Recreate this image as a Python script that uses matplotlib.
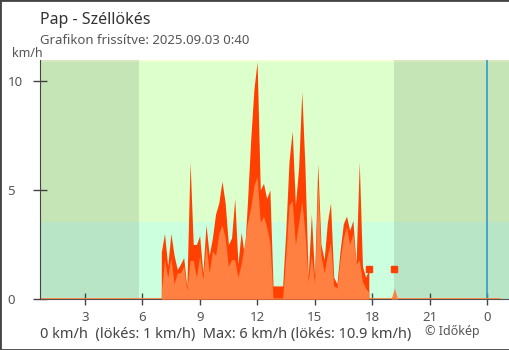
import numpy as np
import matplotlib
matplotlib.use("Agg")
import matplotlib.pyplot as plt
from matplotlib.patches import Rectangle

plt.rcParams["font.family"] = ["Noto Sans", "DejaVu Sans"]

# time window of the chart (hours, previous day 0:40 -> 0:40 today)
day_start = 0 + 40 / 60
day_end = 24 + 40 / 60
x_max = 25.15

# 10-minute readings from 7:00 to 17:50 (km/h)
first_reading = 7.0
gust = [2.15, 3.0, 1.5, 3.0, 2.0, 1.35, 1.6, 1.9, 0.56, 6.27,
        2.5, 2.5, 2.9, 1.2, 3.4, 2.0, 2.8, 3.9, 4.4, 5.4,
        4.4, 2.5, 2.8, 4.6, 1.6, 3.06, 2.0, 4.5, 7.3, 9.6,
        10.86, 5.0, 5.3, 4.6, 5.0, 0.6, 0.6, 0.6, 0.6, 3.14,
        6.3, 7.7, 4.3, 6.0, 9.5, 6.0, 1.0, 3.9, 1.0, 6.2,
        2.5, 1.8, 3.5, 4.4, 1.0, 0.7, 2.23, 3.44, 3.8, 3.14,
        3.6, 1.6, 6.27, 1.5, 1.0, 1.36]
mean = [0.3, 1.8, 1.0, 1.9, 0.7, 1.2, 1.2, 1.5, 0.4, 1.77,
        1.77, 1.0, 2.0, 0.9, 2.5, 1.2, 2.2, 2.0, 3.0, 3.4,
        2.8, 1.5, 1.8, 1.8, 1.0, 1.6, 2.5, 3.5, 4.2, 5.2,
        5.6, 3.5, 3.8, 3.3, 2.6, 0.05, 0.05, 0.05, 0.05, 2.0,
        4.3, 4.5, 2.5, 3.5, 4.5, 3.0, 0.8, 2.0, 0.7, 5.3,
        2.0, 1.2, 2.0, 2.6, 0.6, 0.5, 1.8, 2.8, 3.3, 2.5,
        3.0, 1.6, 1.8, 0.8, 0.5, 0.3]

# lone evening reading at 19:10
late_times = [19.0, 19 + 10 / 60, 19 + 20 / 60]
late_mean = [0.0, 0.5, 0.0]
late_gust = 1.36

# background bands (km/h) and night periods (hours)
band_edges = [0, 3.55, 10.85, 11.0]
band_colors = ["#ccffdd", "#ddffcc", "#f2ffd2"]
sunrise = 5.83
sunset = 19.13

xtick_pos = [3, 6, 9, 12, 15, 18, 21, 24]
xtick_lab = ["3", "6", "9", "12", "15", "18", "21", "0"]
ytick_pos = [0, 5, 10]

times = first_reading + np.arange(len(gust)) / 6

W, H = 510, 350
fig = plt.figure(figsize=(W / 100, H / 100), dpi=100)
ax = fig.add_axes([40 / W, 1 - 299 / H, 469 / W, 239 / H])

for lo, hi, c in zip(band_edges[:-1], band_edges[1:], band_colors):
    ax.axhspan(lo, hi, color=c, lw=0, zorder=0)
ax.axvspan(day_start, sunrise, color="black", alpha=0.1, lw=0, zorder=1)
ax.axvspan(sunset, x_max, color="black", alpha=0.1, lw=0, zorder=1)

ax.axvline(24, color="#3399cc", lw=1.2, zorder=2)

# calm baseline
ax.plot([day_start, day_end], [0, 0], color="#ff8040", lw=2, zorder=3,
        solid_capstyle="butt")

ax.fill_between(times, 0, gust, color="#ff4000", lw=0, zorder=4)
ax.fill_between(times, 0, mean, color="#ff8040", lw=0, zorder=5)
ax.fill_between(late_times, 0, late_mean, color="#ff8040", lw=0, zorder=5)
ax.plot([times[-1], late_times[1]], [gust[-1], late_gust], ls="none",
        marker="s", ms=4, color="#ff4000", zorder=6)

ax.set_xlim(day_start, x_max)
ax.set_ylim(0, 10.95)

for s in ["top", "right"]:
    ax.spines[s].set_visible(False)
ax.spines["left"].set_color("#444444")
ax.spines["bottom"].set_color("#555555")
ax.spines["left"].set_zorder(7)
ax.spines["bottom"].set_zorder(2)

ax.set_xticks(xtick_pos)
ax.set_xticklabels(xtick_lab)
ax.set_yticks(ytick_pos)
ax.tick_params(axis="x", direction="inout", length=8, width=1,
               color="#444444", labelsize=9.5, labelcolor="#555555", pad=4.5)
ax.tick_params(axis="y", direction="inout", length=10, width=1,
               color="#444444", labelsize=9.5, labelcolor="#555555", pad=18.5)
for lab in ax.get_yticklabels():
    lab.set_horizontalalignment("left")

fig.text(40 / W, 1 - 24 / H, "Pap - Széllökés", fontsize=11.5,
         color="#333333", va="baseline")
fig.text(40 / W, 1 - 44.5 / H, "Grafikon frissítve: 2025.09.03 0:40",
         fontsize=9.5, color="#555555", va="baseline")
fig.text(12 / W, 1 - 57 / H, "km/h", fontsize=9, color="#555555",
         va="baseline")
fig.text(40 / W, 1 - 338 / H,
         "0 km/h  (lökés: 1 km/h)  Max: 6 km/h (lökés: 10.9 km/h)",
         fontsize=10.5, color="#444444", va="baseline")
fig.text(425 / W, 1 - 335 / H, "© Időkép", fontsize=9, color="#555555",
         va="baseline")

fig.patches.append(Rectangle((0, 0), 1, 1, transform=fig.transFigure,
                             fill=False, edgecolor="#444444", lw=2))

fig.savefig("out.png", dpi=100)
